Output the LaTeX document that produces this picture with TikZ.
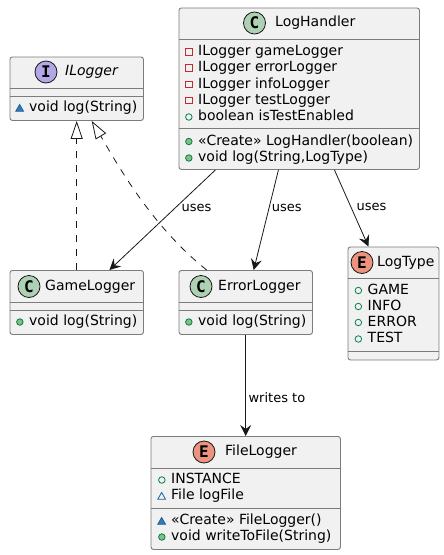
\documentclass[tikz,border=0pt]{standalone}
\usepackage{fontspec}
\setmainfont{DejaVu Sans}
\setmonofont{DejaVu Sans Mono}
\usetikzlibrary{shapes.geometric,arrows.meta,calc,positioning}
\definecolor{linegray}{HTML}{181818}
\definecolor{boxline}{HTML}{7C7C7C}
\definecolor{boxfill}{HTML}{F1F1F1}
\definecolor{privred}{HTML}{C82930}
\definecolor{pubgreen}{HTML}{038048}
\definecolor{pubfill}{HTML}{84BE84}
\definecolor{pkgblue}{HTML}{1963A0}
\definecolor{pkgfill}{HTML}{4177AF}
\definecolor{cfill}{HTML}{ADD1B2}
\definecolor{efill}{HTML}{EB937F}
\definecolor{ifill}{HTML}{B4A7E5}
\tikzset{
    x=1pt,y=1pt,semithick,
    box/.style ={rectangle, draw=boxline, line width=0.9pt, fill=boxfill, rounded corners=2.5pt, anchor=north west, inner sep=0},
    sep/.style ={draw=boxline, line width=0.9pt},
    badge/.style ={circle, draw=linegray, line width=0.8pt, minimum size=22, inner sep=0, font=\ttfamily\bfseries\fontsize{16}{16}\selectfont},
    cbadge/.style ={badge, fill=cfill},
    ebadge/.style ={badge, fill=efill},
    ibadge/.style ={badge, fill=ifill},
    title/.style ={anchor=west, inner sep=0, text height=10.5, text depth=3, font=\fontsize{14}{16}\selectfont},
    row/.style ={title},
    vis/.style ={inner sep=0, line width=0.8pt},
    privf/.style ={row, label={[vis, rectangle, draw=privred, minimum size=6.5, label distance=5.5pt]left:{}}},
    pubf/.style ={row, label={[vis, circle, draw=pubgreen, minimum size=6.5, label distance=5.5pt]left:{}}},
    pubm/.style ={row, label={[vis, circle, draw=pubgreen, fill=pubfill, minimum size=6.5, label distance=5.5pt]left:{}}},
    pkgf/.style ={row, label={[vis, regular polygon, regular polygon sides=3, draw=pkgblue, minimum size=9, label distance=6.3pt, yshift=-1pt]left:{}}},
    pkgm/.style ={row, label={[vis, regular polygon, regular polygon sides=3, draw=pkgblue, fill=pkgfill, minimum size=9, label distance=6.3pt, yshift=-1pt]left:{}}},
    el/.style ={inner sep=0, anchor=west, text height=10, text depth=3, font=\fontsize{13}{15}\selectfont},
    uses/.style ={draw=linegray, line width=0.8pt, -{Stealth[length=11pt,width=11pt,inset=4pt]}},
    impl/.style ={draw=linegray, line width=0.8pt, dash pattern=on 7pt off 7pt, -{Triangle[length=18pt,width=12pt,fill=white,line width=0.8pt]}}
}
\begin{document}
\begin{tikzpicture}
    \useasboundingbox (0,0) rectangle (444,-555);

    % ILogger
    \node[box, minimum width=133.5, minimum height=63.5] (ilogger) at (9.5,-56.5) {};
    \draw[sep] ([yshift=-31.5]ilogger.north west) -- ([yshift=-31.5]ilogger.north east);
    \draw[sep] ([yshift=-39.5]ilogger.north west) -- ([yshift=-39.5]ilogger.north east);
    \node[ibadge] (ibadge1) at (46,-72) {I};
    \node[title, font=\fontsize{14}{16}\selectfont\itshape] (ititle) at (65,-72) {ILogger};
    \node[pkgm] (irow1) at (29,-108) {void log(String)};

    % LogHandler
    \node[box, minimum width=240.5, minimum height=161.5] (handler) at (178.5,-7.5) {};
    \draw[sep] ([yshift=-31.5]handler.north west) -- ([yshift=-31.5]handler.north east);
    \draw[sep] ([yshift=-120.5]handler.north west) -- ([yshift=-120.5]handler.north east);
    \node[cbadge] (hbadge) at (254.5,-23) {C};
    \node[title] (htitle) at (275,-23) {LogHandler};
    \node[privf] (hrow1) at (198,-52) {ILogger gameLogger};
    \node[privf] (hrow2) at (198,-68) {ILogger errorLogger};
    \node[privf] (hrow3) at (198,-84.5) {ILogger infoLogger};
    \node[privf] (hrow4) at (198,-100.5) {ILogger testLogger};
    \node[pubf] (hrow5) at (198,-117) {boolean isTestEnabled};
    \node[pubm] (hrow6) at (198,-141.5) {«Create» LogHandler(boolean)};
    \node[pubm] (hrow7) at (198,-158) {void log(String,LogType)};

    % GameLogger
    \node[box, minimum width=133.5, minimum height=64] (game) at (9.5,-270) {};
    \draw[sep] ([yshift=-32]game.north west) -- ([yshift=-32]game.north east);
    \draw[sep] ([yshift=-40]game.north west) -- ([yshift=-40]game.north east);
    \node[cbadge] (gbadge) at (29,-286.5) {C};
    \node[title] (gtitle) at (45,-286.5) {GameLogger};
    \node[pubm] (grow1) at (29,-322) {void log(String)};

    % ErrorLogger
    \node[box, minimum width=133.5, minimum height=64] (error) at (178.5,-270) {};
    \draw[sep] ([yshift=-32]error.north west) -- ([yshift=-32]error.north east);
    \draw[sep] ([yshift=-40]error.north west) -- ([yshift=-40]error.north east);
    \node[cbadge] (ebadge1) at (201,-286.5) {C};
    \node[title] (etitle) at (218,-286.5) {ErrorLogger};
    \node[pubm] (erow1) at (198,-322) {void log(String)};

    % LogType
    \node[box, minimum width=91, minimum height=113] (logtype) at (347.5,-246.5) {};
    \draw[sep] ([yshift=-32]logtype.north west) -- ([yshift=-32]logtype.north east);
    \draw[sep] ([yshift=-105]logtype.north west) -- ([yshift=-105]logtype.north east);
    \node[ebadge] (tbadge) at (362,-262.5) {E};
    \node[title] (ttitle) at (377,-262.5) {LogType};
    \node[pubf] (trow1) at (367.5,-290.5) {GAME};
    \node[pubf] (trow2) at (367.5,-306.5) {INFO};
    \node[pubf] (trow3) at (367.5,-322.5) {ERROR};
    \node[pubf] (trow4) at (367.5,-339) {TEST};

    % FileLogger
    \node[box, minimum width=189.5, minimum height=113] (file) at (150.5,-436) {};
    \draw[sep] ([yshift=-32]file.north west) -- ([yshift=-32]file.north east);
    \draw[sep] ([yshift=-72]file.north west) -- ([yshift=-72]file.north east);
    \node[ebadge] (fbadge) at (204,-452) {E};
    \node[title] (ftitle) at (225,-452) {FileLogger};
    \node[pubf] (frow1) at (171,-480) {INSTANCE};
    \node[pkgf] (frow2) at (171,-496) {File logFile};
    \node[pkgm] (frow3) at (171,-521) {«Create» FileLogger()};
    \node[pubm] (frow4) at (171,-537) {void writeToFile(String)};

    \draw[impl] (game.north -| ilogger.south) -- (ilogger.south);
    \draw[impl] ([xshift=-39]error.north) .. controls (150,-225) and (115,-160) .. ([xshift=15]ilogger.south);
    \draw[uses] ([xshift=-83.75]handler.south) -- node[el, pos=.38, right=6pt] (uses1) {uses} ([xshift=32.75]game.north);
    \draw[uses] ([xshift=-20.75]handler.south) -- node[el, pos=.38, right=2.5pt] (uses2) {uses} ([xshift=8]error.north);
    \draw[uses] ([xshift=35.25]handler.south) -- node[el, pos=.49, right=5pt] (uses3) {uses} ([xshift=-25]logtype.north);
    \draw[uses] (error.south) -- node[el, pos=.63, right=2.5pt] (writes) {writes to} (file.north);
\end{tikzpicture}
\end{document}
